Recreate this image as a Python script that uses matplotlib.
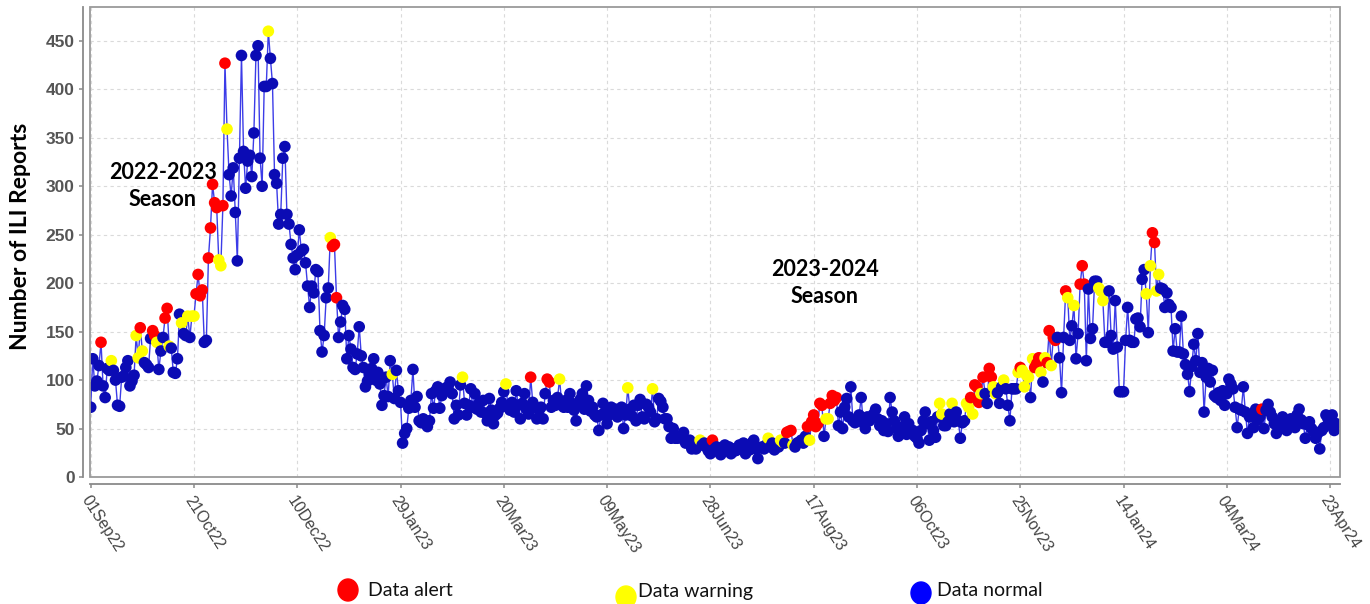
import matplotlib
matplotlib.use("Agg")
import matplotlib.pyplot as plt
import matplotlib.dates as mdates
from matplotlib.patches import Ellipse, Rectangle
import pandas as pd

# daily ILI report counts starting 01 Sep 2022
start_date = "2022-09-01"
ili_reports = [
    72, 122, 94, 99, 115, 139, 94, 82, 112, 110,
    120, 110, 100, 74, 73, 103, 104, 113, 120, 94,
    99, 105, 146, 123, 154, 130, 118, 116, 113, 143,
    151, 146, 139, 111, 130, 144, 164, 174, 135, 133,
    108, 107, 122, 168, 159, 148, 146, 166, 144, 166,
    166, 189, 209, 187, 193, 139, 141, 226, 257, 302,
    283, 278, 224, 218, 280, 427, 359, 312, 290,
    319, 273, 223, 329, 435, 336, 298, 326, 332, 310,
    355, 435, 445, 329, 300, 403, 403, 460, 432, 406,
    312, 303, 261, 271, 329, 341, 271, 261, 240, 226,
    214, 229, 255, 233, 235, 221, 197, 175, 197, 190,
    214, 212, 151, 129, 146, 185, 195, 247, 238, 240,
    185, 144, 160, 177, 173, 122, 146, 132, 113, 111,
    127, 155, 125, 113, 93, 99,
    106, 112, 122, 100, 108, 96, 74, 84, 103, 83,
    120, 106, 81, 110, 89, 77, 35, 45, 50, 71,
    79, 111, 72, 83, 58, 56, 60, 55, 52, 58,
    86, 71, 89, 93, 71, 84, 89, 92, 93, 98,
    86, 60, 74, 64, 95, 103, 76, 64, 74, 91,
    72, 86, 70, 76, 67, 79, 66, 58, 81, 69,
    55, 64, 66, 71, 77, 88, 96, 72,
    69, 77, 67, 89, 74, 60, 76, 86, 70, 65,
    103, 77, 72, 60, 69, 72, 60, 86, 101, 98,
    72, 79, 74, 82, 101, 76, 72, 79, 72, 86,
    76, 69, 58, 74, 80, 86, 70, 94, 79, 68,
    72, 64, 62, 48, 64, 76, 67, 55, 64, 72,
    66, 70, 62, 67, 72, 50, 64, 92, 70, 63,
    74, 58, 74, 80, 62, 60, 75, 72, 67, 91,
    57, 60, 81, 78, 72, 60, 60, 52, 40, 50,
    40, 40, 42, 40, 46, 35, 36, 38, 29, 33,
    29, 34, 38, 33, 35, 31, 27, 24, 38, 29,
    31, 26, 23, 29, 33, 28, 31, 24, 29, 27,
    28, 33, 29, 35, 24, 31, 28, 35, 38, 29,
    19, 30, 31, 29, 33, 40, 31, 35, 28, 33,
    31, 38, 36, 35, 46,
    47, 48, 33, 31, 35, 36, 38, 35, 42, 52,
    38, 57, 64, 52, 55, 76, 74, 42, 60, 60,
    76, 84, 79, 82, 53, 67, 50, 72, 81, 62,
    93, 58, 56, 58, 64, 82, 56, 50, 62, 58,
    61, 65, 70, 60, 53, 58, 48, 55, 47, 82,
    67, 58, 50, 42, 48, 52, 62, 44, 55, 47,
    48, 42, 40, 35, 48, 58, 67, 55,
    38, 57, 48, 41, 62, 76, 65, 53, 53, 57,
    65, 76, 57, 67, 58, 40, 56, 58, 76, 72,
    82, 65, 95, 93, 77, 86, 103, 86, 76, 112,
    103, 93, 86, 87, 76, 93, 100, 91, 74, 58,
    91, 91, 91, 108, 113, 110, 93, 105, 103, 82,
    122, 113, 117, 123, 108, 98, 123, 118, 151, 115,
    144, 141, 144, 123, 87, 144, 192, 185,
    141, 156, 177, 122, 148, 199, 218, 199, 120, 194,
    143, 153, 202, 202, 195, 192, 182, 139, 139, 192,
    146, 132, 182, 134, 88, 88, 88, 141, 175, 141,
    139, 139, 163, 164, 155, 204, 214, 189, 149, 218,
    252, 242, 192, 209, 195, 194, 175, 190, 178, 175,
    130, 153, 129, 129, 166, 127, 116, 106, 88, 114,
    137, 120, 148, 108, 118, 67, 103,
    112, 98, 110, 84, 82, 87, 79, 89, 74, 86,
    101, 96, 91, 72, 51, 70, 69, 93, 67, 45,
    62, 64, 51, 70, 59, 62, 70, 50, 69, 75,
    67, 62, 55, 45, 57, 51, 62, 59, 48, 55,
    60, 58, 51, 64, 70, 59, 55, 40, 54, 57,
    50, 47, 40, 45, 29, 48, 51, 64, 60, 54,
    64, 48, 55,
]

# day indices flagged by the alert algorithm
alert_days = [
    5, 24, 30, 31, 36, 37, 51, 52, 53, 54, 57, 58, 59, 60, 61, 64, 65,
    117, 118, 119, 213, 221, 222, 301, 337, 338, 339, 347, 349, 350, 351,
    352, 353, 354, 358, 359, 360, 361, 426, 428, 429, 430, 432, 435, 436,
    450, 457, 458, 459, 463, 464, 466, 467, 472, 479, 480, 481, 514, 515, 567,
]
warning_days = [
    10, 22, 23, 25, 32, 38, 44, 47, 49, 50, 62, 63, 66, 86, 116, 146, 180,
    201, 227, 260, 272, 295, 328, 334, 335, 340, 348, 356, 357, 411, 412,
    417, 424, 425, 427, 431, 437, 438, 442, 449, 451, 452, 453, 454, 456,
    460, 462, 465, 473, 476, 488, 489, 490, 511, 513, 516, 517,
]

season_labels = ["2022-2023\nSeason", "2023-2024\nSeason"]
legend_labels = ["Data alert", "Data warning", "Data normal"]
status_colors = {"alert": "#ff0000", "warning": "#ffff00", "normal": "#0b0bb4"}

W, H = 1370, 604

def fx(px):
    return px / W

def fy(py):
    return 1 - py / H

dates = pd.date_range(start_date, periods=len(ili_reports), freq="D")
status = ["normal"] * len(ili_reports)
for d in warning_days:
    status[d] = "warning"
for d in alert_days:
    status[d] = "alert"
colors = [status_colors[s] for s in status]

fig = plt.figure(figsize=(W / 100, H / 100), dpi=100)
ax = fig.add_axes([fx(90), fy(477), fx(1340) - fx(90), fy(7) - fy(477)])

ax.plot(dates, ili_reports, color="#3c3ce8", lw=1.0, zorder=2)
ax.scatter(dates, ili_reports, c=colors, s=70, linewidths=0, zorder=3)

ax.set_xlim(dates[0] - pd.Timedelta(hours=8), dates[0] + pd.Timedelta(days=604.8))
ax.set_ylim(0, 485)
ax.set_yticks(range(0, 451, 50))
ax.set_xticks(dates[::50])
ax.xaxis.set_major_formatter(mdates.DateFormatter("%d%b%y"))

ax.grid(True, color="#dadada", ls=(0, (3, 3)), lw=0.8, zorder=0)
ax.set_axisbelow(True)

for side in ["top", "right"]:
    ax.spines[side].set_visible(False)
for side in ["left", "bottom"]:
    ax.spines[side].set_position(("outward", 5))
    ax.spines[side].set_color("#8a8a8a")
    ax.spines[side].set_linewidth(1.3)
ax.add_patch(Rectangle((0, 0), 1, 1, transform=ax.transAxes, fill=False,
                       ec="#9a9a9a", lw=1.3, clip_on=False, zorder=4))

ax.tick_params(axis="both", color="#8a8a8a", length=3, width=1.1)
ax.tick_params(axis="y", pad=3)
for lab in ax.get_yticklabels():
    lab.set_fontfamily("Liberation Sans")
    lab.set_fontweight("bold")
    lab.set_fontsize(12.5)
    lab.set_color("#555555")
for lab in ax.get_xticklabels():
    lab.set_fontfamily("Liberation Sans")
    lab.set_fontsize(11.5)
    lab.set_color("#444444")
    lab.set_rotation(-57)
    lab.set_ha("left")
    lab.set_va("top")
    lab.set_rotation_mode("anchor")

fig.text(fx(21), fy(236), "Number of ILI Reports", rotation=90, ha="center",
         va="center", fontsize=16.5, fontweight="bold", family="Lato")

fig.text(fx(163), fy(186), season_labels[0], ha="center", va="center",
         fontsize=15.5, fontweight="bold", family="Lato", linespacing=1.3)
fig.text(fx(825), fy(283), season_labels[1], ha="center", va="center",
         fontsize=15.5, fontweight="bold", family="Lato", linespacing=1.3)

# legend drawn under the chart
legend_colors = [status_colors["alert"], status_colors["warning"], "#0000ff"]
marker_pos = [(348, 590), (626, 597), (921, 593)]
text_x = [368, 638, 937]
for lab, col, (mx, my), tx in zip(legend_labels, legend_colors, marker_pos, text_x):
    fig.add_artist(Ellipse((fx(mx), fy(my)), 20 / W, 22 / H, color=col,
                           transform=fig.transFigure))
    fig.text(fx(tx), fy(591), lab, ha="left", va="center", fontsize=14,
             family="Lato", color="#111111")

fig.savefig("out.png", dpi=100)
